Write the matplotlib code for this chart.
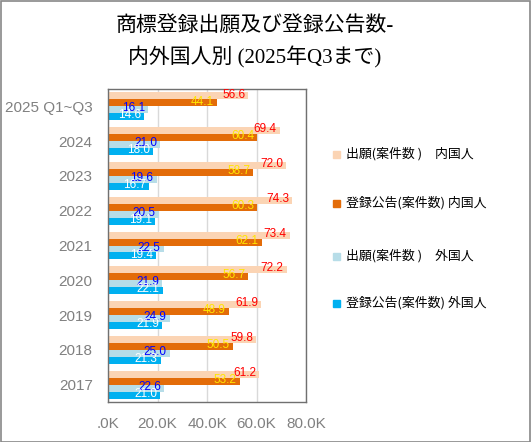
import matplotlib
matplotlib.use("Agg")
import matplotlib.pyplot as plt
import numpy as np
from matplotlib.patches import Rectangle

plt.rcParams['font.family'] = ['Noto Sans CJK JP', 'DejaVu Sans']

# data (thousands of cases)
years = ['2025 Q1~Q3', '2024', '2023', '2022', '2021', '2020', '2019', '2018', '2017']
app_dom = [56.6, 69.4, 72.0, 74.3, 73.4, 72.2, 61.9, 59.8, 61.2]
reg_dom = [44.1, 60.4, 58.7, 60.3, 62.1, 56.7, 48.9, 50.5, 53.2]
app_for = [16.1, 21.0, 19.6, 20.5, 22.5, 21.9, 24.9, 25.0, 22.6]
reg_for = [14.6, 18.0, 16.7, 19.1, 19.4, 22.1, 21.9, 21.3, 21.0]
series_names = ['出願(案件数 )　内国人', '登録公告(案件数) 内国人',
                '出願(案件数 )　外国人', '登録公告(案件数) 外国人']
xticks = [0, 20, 40, 60, 80]
xticklabels = ['.0K', '20.0K', '40.0K', '60.0K', '80.0K']

bar_colors = ['#FBD4B4', '#E36C09', '#B7DDE8', '#00B0F0']
label_colors = ['#FF0000', '#FFE600', '#0000FF', '#FFFFFF']
latin = 'Liberation Sans'

fig = plt.figure(figsize=(5.31, 4.42), dpi=100)
ax = fig.add_axes([108/531, 1 - 402/442, 198/531, 313/442])

series = [app_dom, reg_dom, app_for, reg_for]
n = len(years)
h = 0.2
ypos = np.arange(n)
for j, vals in enumerate(series):
    yy = ypos - 0.3 + j * h
    ax.barh(yy, vals, height=h, color=bar_colors[j], zorder=2, label=series_names[j])
    for y, v in zip(yy, vals):
        ax.text(v - 1.2, y - 0.04, f'{v:.1f}', ha='right', va='center',
                fontsize=8.5, color=label_colors[j], family=latin, zorder=3)

ax.set_ylim(n - 0.5, -0.5)
ax.set_xlim(0, 80)
ax.set_yticks(ypos)
ax.set_yticklabels(years, fontsize=11, color='#808080', family=latin)
ax.set_xticks(xticks)
ax.set_xticklabels(xticklabels, fontsize=11, color='#808080', family=latin)
ax.tick_params(axis='both', length=0)
ax.tick_params(axis='x', pad=11)
ax.tick_params(axis='y', pad=11)
ax.grid(axis='x', color='#D9D9D9', linewidth=1, zorder=0)
for s in ax.spines.values():
    s.set_color('#707070')
    s.set_linewidth(1)

# legend
leg_y = [154, 203, 256, 303]
for j, yl in enumerate(leg_y):
    fig.patches.append(Rectangle((333/531, 1 - (yl + 4) / 442), 7/531, 7/442,
                                 transform=fig.transFigure, color=bar_colors[j]))
    fig.text(346/531, 1 - yl/442, series_names[j], fontsize=9.3, va='center', ha='left')

fig.text(255/531, 1 - 26/442, '商標登録出願及び登録公告数-', fontsize=15,
         ha='center', va='center', family=['Liberation Serif', 'Noto Sans CJK JP'])
fig.text(255/531, 1 - 57/442, '内外国人別 (2025年Q3まで)', fontsize=15,
         ha='center', va='center', family=['Liberation Serif', 'Noto Sans CJK JP'])

fig.patches.append(Rectangle((0.001, 0.001), 0.997, 0.997, transform=fig.transFigure,
                             fill=False, edgecolor='#888888', linewidth=1.2))

fig.savefig('out.png', dpi=100)
